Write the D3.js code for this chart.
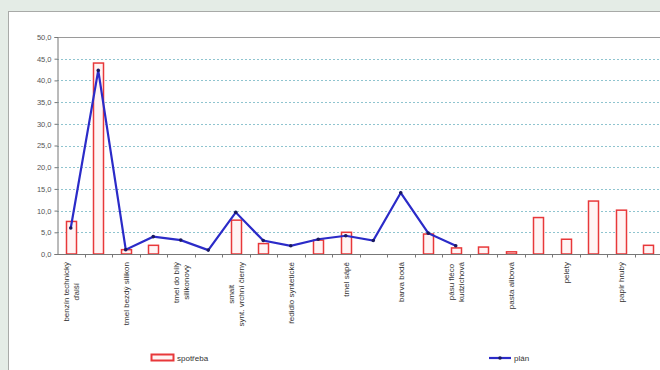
<!DOCTYPE html>
<html>
<head>
<meta charset="utf-8">
<script src="https://cdn.jsdelivr.net/npm/d3@7"></script>
<style>
  body { margin: 0; background: #e4ece6; }
  svg { display: block; font-family: "Liberation Sans", Arial, sans-serif; }
</style>
</head>
<body>
<div id="chart"></div>
<script>
// categories (only every other one carries a label)
var categories = ["c1","c2","c3","c4","c5","c6","c7","c8","c9","c10","c11",
                  "c12","c13","c14","c15","c16","c17","c18","c19","c20","c21","c22"];
var labels = [
  ["benzín technický", "ďalší"], null,
  ["tmel bezdý silikon"], null,
  ["tmel do bílý", "silikonový"], null,
  ["smalt", "synt. vrchní čierny"], null,
  ["ředidlo syntetické"], null,
  ["tmel sápě"], null,
  ["barva bodá"], null,
  ["pásu fléco", "kudzichová"], null,
  ["pasta alibová"], null,
  ["pelety"], null,
  ["papír hrubý"], null
];
// spotřeba (bars)
var spotreba = [7.5, 44.0, 1.0, 2.0, 0, 0, 7.8, 2.4, 0, 3.2, 5.0, 0, 0, 4.6,
                1.4, 1.6, 0.5, 8.4, 3.4, 12.2, 10.1, 2.0];
// plán (line)
var plan = [6.0, 42.3, 1.0, 4.0, 3.2, 0.9, 9.6, 3.1, 1.9, 3.4, 4.2, 3.1, 14.1,
            4.8, 1.9, null, null, null, null, null, null, null];
var yTicks = [0, 5, 10, 15, 20, 25, 30, 35, 40, 45, 50];

var W = 660, H = 370;
var margin = {top: 37, left: 57, bottom: 116};
var plotH = H - margin.top - margin.bottom;

var svg = d3.select("#chart").append("svg")
    .attr("width", W).attr("height", H);

// chart box
svg.append("rect")
    .attr("x", 8.5).attr("y", 11.5)
    .attr("width", W).attr("height", H)
    .attr("fill", "#fff").attr("stroke", "#a8aaa8");

var x = d3.scaleBand().domain(categories)
    .range([margin.left, margin.left + categories.length * 27.5]);
var y = d3.scaleLinear().domain([0, 50]).range([margin.top + plotH, margin.top]);

// plot area top border
svg.append("line")
    .attr("x1", margin.left).attr("x2", W)
    .attr("y1", y(50) + 0.5).attr("y2", y(50) + 0.5)
    .attr("stroke", "#9a9a9a");

// gridlines
svg.selectAll(".grid").data(yTicks.filter(function(d){ return d > 0 && d < 50; }))
  .enter().append("line")
    .attr("class", "grid")
    .attr("x1", margin.left).attr("x2", W)
    .attr("y1", function(d){ return Math.round(y(d)) + 0.5; })
    .attr("y2", function(d){ return Math.round(y(d)) + 0.5; })
    .attr("stroke", "#8fc4cf")
    .attr("stroke-dasharray", "2,2");

// bars
svg.selectAll(".bar").data(spotreba)
  .enter().append("rect")
    .attr("class", "bar")
    .attr("x", function(d, i){ return Math.round(x(categories[i]) + x.bandwidth()/2 - 5) + 0.5; })
    .attr("y", function(d){ return y(d); })
    .attr("width", 10)
    .attr("height", function(d){ return y(0) - y(d); })
    .attr("fill", "#fff4f4")
    .attr("stroke", "#e8383a")
    .attr("stroke-width", 1.5)
    .style("display", function(d){ return d > 0 ? null : "none"; });

// y axis
var yAxis = svg.append("g")
    .attr("transform", "translate(" + (margin.left + 0.5) + ",0)")
    .call(d3.axisLeft(y).tickValues(yTicks).tickSize(3).tickPadding(3)
          .tickFormat(function(d){ return d3.format(".1f")(d).replace(".", ","); }));
yAxis.select(".domain").attr("stroke", "#777");
yAxis.selectAll(".tick line").attr("stroke", "#777");
yAxis.selectAll("text").attr("font-size", 7.5).attr("fill", "#555")
    .attr("font-family", "Liberation Sans, Arial, sans-serif");

// x axis
var xAxis = svg.append("g")
    .attr("transform", "translate(0," + (y(0) + 0.5) + ")");
xAxis.append("line")
    .attr("x1", margin.left).attr("x2", W)
    .attr("stroke", "#777");
xAxis.selectAll(".xt").data(categories)
  .enter().append("line")
    .attr("class", "xt")
    .attr("x1", function(d){ return Math.round(x(d) + x.bandwidth()) + 0.5; })
    .attr("x2", function(d){ return Math.round(x(d) + x.bandwidth()) + 0.5; })
    .attr("y1", 0).attr("y2", 3)
    .attr("stroke", "#777");

// line
var line = d3.line()
    .defined(function(d){ return d !== null; })
    .x(function(d, i){ return x(categories[i]) + x.bandwidth()/2; })
    .y(function(d){ return y(d); });

svg.append("path")
    .datum(plan)
    .attr("d", line)
    .attr("fill", "none")
    .attr("stroke", "#2b2bc8")
    .attr("stroke-width", 2.2);

svg.selectAll(".pt").data(plan)
  .enter().filter(function(d){ return d !== null; })
  .append("circle")
    .attr("cx", function(d, i){ return x(categories[i]) + x.bandwidth()/2; })
    .attr("cy", function(d){ return y(d); })
    .attr("r", 1.8)
    .attr("fill", "#1a1a60");

// category labels
var lab = svg.selectAll(".lab").data(labels)
  .enter().append("g")
    .attr("class", "lab")
    .attr("transform", function(d, i){
      return "translate(" + (x(categories[i]) + x.bandwidth()/2) + "," + (y(0) + 8) + ") rotate(-90)";
    });

lab.each(function(d){
  if (!d) return;
  var g = d3.select(this);
  var lineGap = 10;
  var texts = d.map(function(t, j){
    return g.append("text")
      .attr("font-size", 8)
      .attr("fill", "#333")
      .attr("dy", ((j - (d.length - 1) / 2) * lineGap + 3) + "px")
      .attr("text-anchor", "middle")
      .text(t);
  });
  var maxLen = d3.max(texts, function(t){ return t.node().getComputedTextLength(); });
  texts.forEach(function(t){ t.attr("x", -maxLen / 2); });
});

// legend
var leg1 = svg.append("g").attr("transform", "translate(151,358)");
leg1.append("rect").attr("x", 0.5).attr("y", -3.5).attr("width", 22).attr("height", 6)
    .attr("fill", "#fff4f4").attr("stroke", "#e8383a").attr("stroke-width", 2);
leg1.append("text").attr("x", 26).attr("y", 3).attr("font-size", 8).attr("fill", "#333")
    .text("spotřeba");

var leg2 = svg.append("g").attr("transform", "translate(489,358)");
leg2.append("line").attr("x1", 0).attr("x2", 22).attr("y1", 0).attr("y2", 0)
    .attr("stroke", "#2b2bc8").attr("stroke-width", 2.2);
leg2.append("circle").attr("cx", 11).attr("cy", 0).attr("r", 1.8).attr("fill", "#1a1a60");
leg2.append("text").attr("x", 25).attr("y", 3).attr("font-size", 8).attr("fill", "#333")
    .text("plán");
</script>
</body>
</html>
